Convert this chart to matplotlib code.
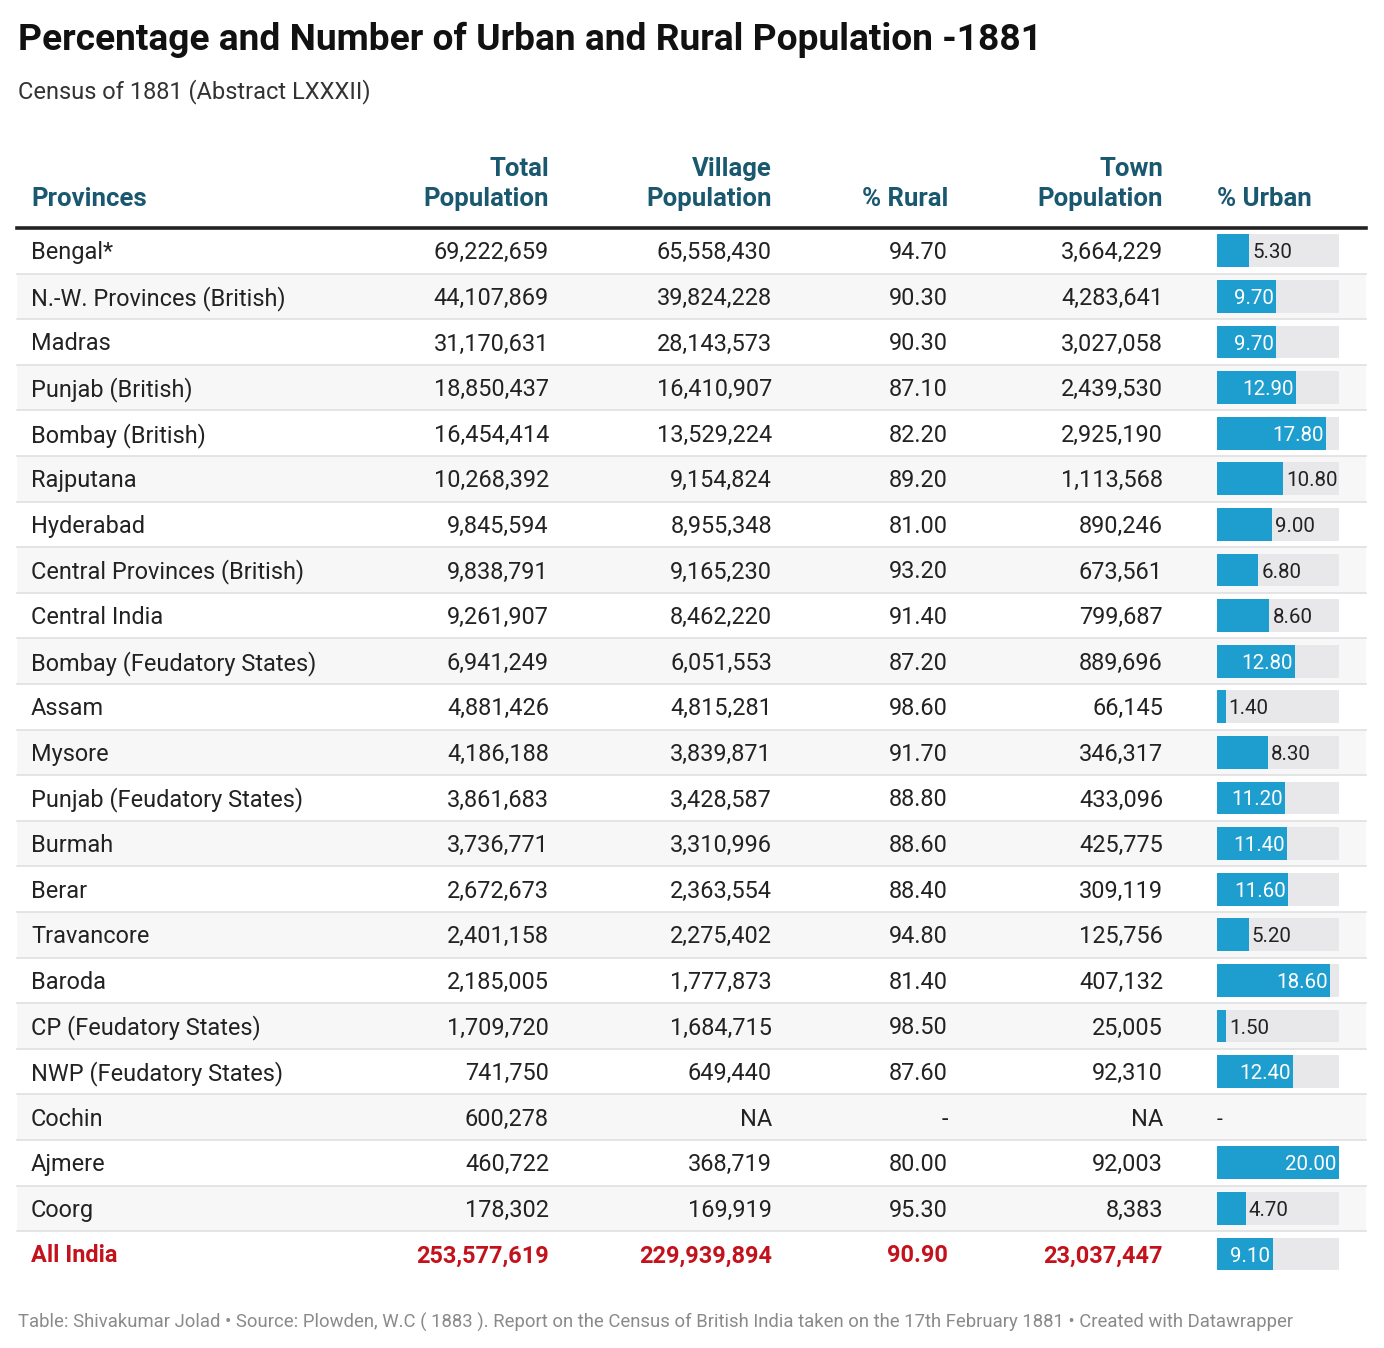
import matplotlib.pyplot as plt
from matplotlib.patches import Rectangle

plt.rcParams['font.family'] = ['Roboto', 'DejaVu Sans']

provinces = ['Bengal*', 'N.-W. Provinces (British)', 'Madras', 'Punjab (British)',
             'Bombay (British)', 'Rajputana', 'Hyderabad', 'Central Provinces (British)',
             'Central India', 'Bombay (Feudatory States)', 'Assam', 'Mysore',
             'Punjab (Feudatory States)', 'Burmah', 'Berar', 'Travancore', 'Baroda',
             'CP (Feudatory States)', 'NWP (Feudatory States)', 'Cochin', 'Ajmere', 'Coorg']
total_pop = [69222659, 44107869, 31170631, 18850437, 16454414, 10268392, 9845594,
             9838791, 9261907, 6941249, 4881426, 4186188, 3861683, 3736771, 2672673,
             2401158, 2185005, 1709720, 741750, 600278, 460722, 178302]
village_pop = [65558430, 39824228, 28143573, 16410907, 13529224, 9154824, 8955348,
               9165230, 8462220, 6051553, 4815281, 3839871, 3428587, 3310996, 2363554,
               2275402, 1777873, 1684715, 649440, None, 368719, 169919]
pct_rural = [94.70, 90.30, 90.30, 87.10, 82.20, 89.20, 81.00, 93.20, 91.40, 87.20,
             98.60, 91.70, 88.80, 88.60, 88.40, 94.80, 81.40, 98.50, 87.60, None,
             80.00, 95.30]
town_pop = [3664229, 4283641, 3027058, 2439530, 2925190, 1113568, 890246, 673561,
            799687, 889696, 66145, 346317, 433096, 425775, 309119, 125756, 407132,
            25005, 92310, None, 92003, 8383]
pct_urban = [5.30, 9.70, 9.70, 12.90, 17.80, 10.80, 9.00, 6.80, 8.60, 12.80, 1.40,
             8.30, 11.20, 11.40, 11.60, 5.20, 18.60, 1.50, 12.40, None, 20.00, 4.70]
total_row = ['All India', 253577619, 229939894, 90.90, 23037447, 9.10]

# rows whose bar label Datawrapper put outside the bar despite its length
label_outside = ['Rajputana']

W, H = 1384, 1348
fig = plt.figure(figsize=(W / 100, H / 100), dpi=100)
ax = fig.add_axes([0, 0, 1, 1])
ax.set_xlim(0, W)
ax.set_ylim(H, 0)
ax.axis('off')

HEAD_C = '#1a5870'
RED = '#c4121c'
TXT = '#222222'
BAR_C = '#1e9dcf'
dy = 2  # small baseline nudge

ax.text(18, 38 + dy, 'Percentage and Number of Urban and Rural Population -1881',
        fontsize=26.7, fontweight='bold', color='#111111', va='center')
ax.text(18, 90 + dy, 'Census of 1881 (Abstract LXXXII)', fontsize=17, color='#333333',
        va='center')

x_prov = 31
x_tot, x_vil, x_rur, x_town = 549, 772, 948, 1163
x_bar0, x_bar1 = 1217, 1339
left, right = 17, 1366
top = 228
rh = 45.6
n = len(provinces) + 1

hkw = dict(fontsize=18.5, fontweight='bold', color=HEAD_C, va='center')
ax.text(x_prov, 197 + dy, 'Provinces', ha='left', **hkw)
for x, l1 in [(x_tot, 'Total'), (x_vil, 'Village'), (x_town, 'Town')]:
    ax.text(x, 167 + dy, l1, ha='right', **hkw)
    ax.text(x, 197 + dy, 'Population', ha='right', **hkw)
ax.text(x_rur, 197 + dy, '% Rural', ha='right', **hkw)
ax.text(x_bar0, 197 + dy, '% Urban', ha='left', **hkw)


def fmt_int(v):
    return 'NA' if v is None else f'{v:,}'


def fmt_pct(v):
    return '-' if v is None else f'{v:.2f}'


for i in range(n):
    y0 = top + i * rh
    if i % 2 == 1:
        ax.add_patch(Rectangle((left, y0), right - left, rh, color='#f7f7f7', lw=0, zorder=0))
    if i > 0:
        ax.plot([left, right], [y0, y0], color='#e0e0e0', lw=1.2, zorder=1)
ax.plot([left, right], [top, top], color='#222222', lw=2.6, zorder=2)

for i, name in enumerate(provinces):
    yc = top + (i + 0.5) * rh + dy
    kw = dict(fontsize=16.9, color=TXT, va='center')
    ax.text(x_prov, yc, name, ha='left', **kw)
    ax.text(x_tot, yc, fmt_int(total_pop[i]), ha='right', **kw)
    ax.text(x_vil, yc, fmt_int(village_pop[i]), ha='right', **kw)
    ax.text(x_rur, yc, fmt_pct(pct_rural[i]), ha='right', **kw)
    ax.text(x_town, yc, fmt_int(town_pop[i]), ha='right', **kw)

yc = top + (n - 0.5) * rh + dy
kw = dict(fontsize=16.9, color=RED, fontweight='bold', va='center')
ax.text(x_prov, yc, total_row[0], ha='left', **kw)
ax.text(x_tot, yc, fmt_int(total_row[1]), ha='right', **kw)
ax.text(x_vil, yc, fmt_int(total_row[2]), ha='right', **kw)
ax.text(x_rur, yc, fmt_pct(total_row[3]), ha='right', **kw)
ax.text(x_town, yc, fmt_int(total_row[4]), ha='right', **kw)

# bar column as its own axes in value units
bax = fig.add_axes([x_bar0 / W, 1 - (top + n * rh) / H,
                    (x_bar1 - x_bar0) / W, n * rh / H])
bax.set_xlim(0, 20)
bax.set_ylim(n, 0)
bax.axis('off')
bax.patch.set_alpha(0)
urban_all = pct_urban + [total_row[5]]
names_all = provinces + [total_row[0]]
ty = dy / rh
for i, (name, v) in enumerate(zip(names_all, urban_all)):
    y = i + 0.5
    if v is None:
        bax.text(0, y + ty, '-', ha='left', va='center', fontsize=15, color=TXT)
        continue
    bax.barh(y, 20, height=0.72, color='#e8e8ea', lw=0)
    bax.barh(y, v, height=0.72, color=BAR_C, lw=0)
    if v >= 9.05 and name not in label_outside:
        bax.text(v - 0.35, y + ty, f'{v:.2f}', ha='right', va='center', fontsize=14.8,
                 color='white')
    else:
        bax.text(v + 0.5, y + ty, f'{v:.2f}', ha='left', va='center', fontsize=14.8,
                 color=TXT)

ax.text(18, 1320 + dy, 'Table: Shivakumar Jolad \u2022 Source: Plowden, W.C ( 1883 ). Report on the '
        'Census of British India taken on the 17th February 1881 \u2022 Created with Datawrapper',
        fontsize=13.3, color='#8a8a8a', va='center')

fig.savefig('out.png', dpi=100)
